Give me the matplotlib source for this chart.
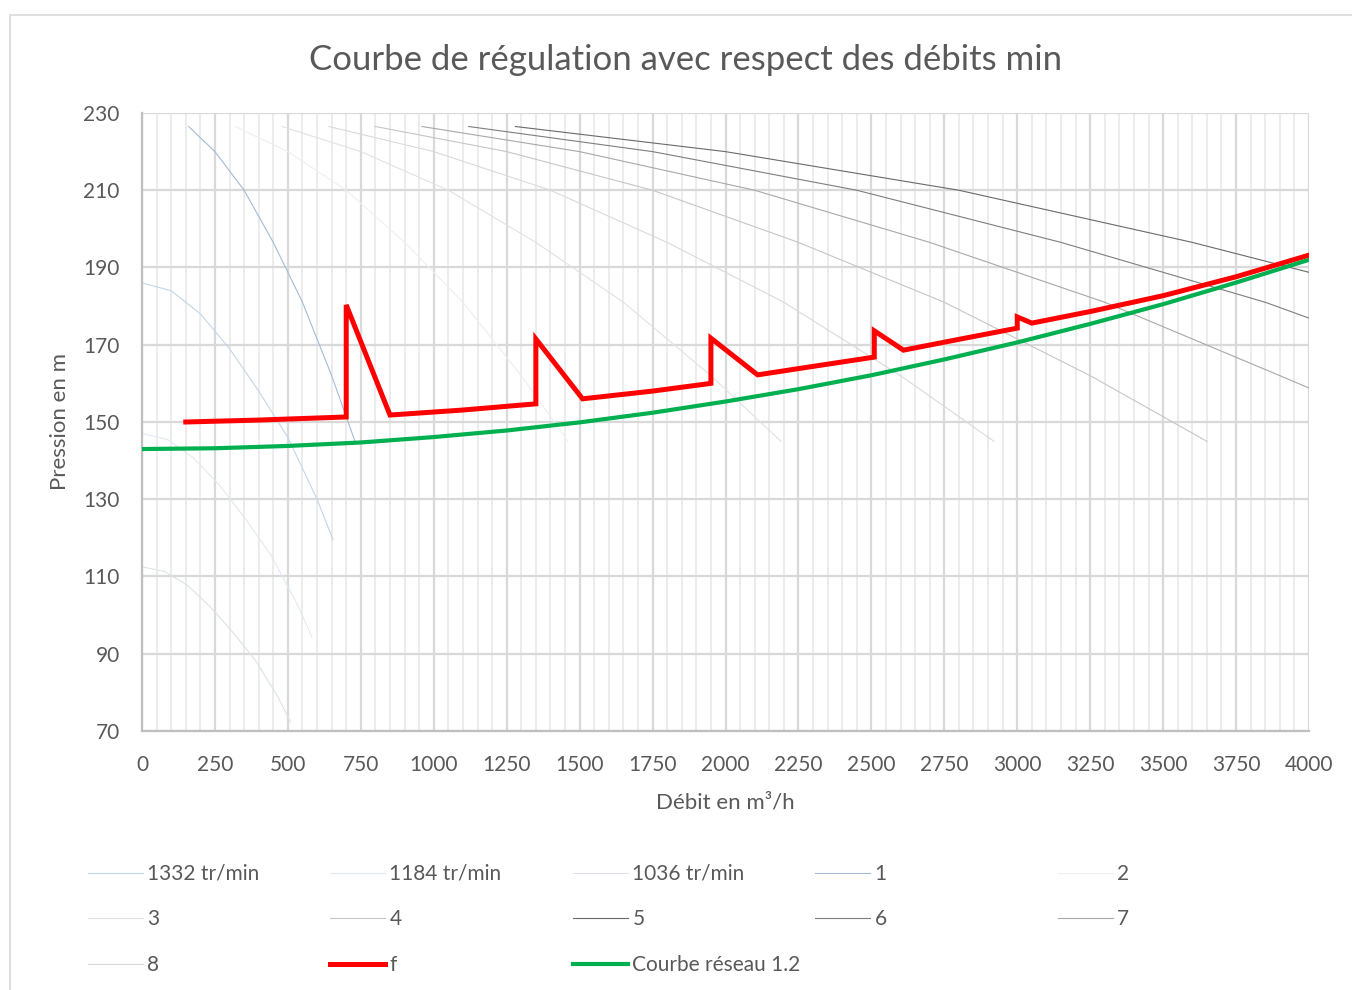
import numpy as np
import matplotlib
matplotlib.use('Agg')
import matplotlib.pyplot as plt
from matplotlib.ticker import MultipleLocator
from matplotlib.patches import Rectangle

plt.rcParams['font.family'] = ['Lato', 'DejaVu Sans']

# single pump curves at three speeds
q_1332 = [0, 100, 200, 300, 400, 500, 600, 655]
h_1332 = [186, 184, 178, 169, 158, 146, 130, 119.5]
q_1184 = [0, 89, 178, 267, 356, 444, 533, 582]
h_1184 = [147, 145.4, 140.6, 133.5, 124.8, 115.3, 102.7, 94.4]
q_1036 = [0, 78, 156, 233, 311, 389, 467, 509]
h_1036 = [112.5, 111.3, 107.7, 102.2, 95.6, 88.3, 78.7, 72.3]

# curves 1..8
q_c1 = [160, 250, 350, 450, 550, 650, 730]
h_c1 = [226.5, 220, 210, 196.5, 181, 162, 145]
q_c2 = [320, 500, 700, 900, 1100, 1300, 1460]
h_c2 = [226.5, 220, 210, 196.5, 181, 162, 145]
q_c3 = [480, 750, 1050, 1350, 1650, 1950, 2190]
h_c3 = [226.5, 220, 210, 196.5, 181, 162, 145]
q_c8 = [640, 1000, 1400, 1800, 2200, 2600, 2920]
h_c8 = [226.5, 220, 210, 196.5, 181, 162, 145]
q_c4 = [800, 1250, 1750, 2250, 2750, 3250, 3650]
h_c4 = [226.5, 220, 210, 196.5, 181, 162, 145]
q_c7 = [960, 1500, 2100, 2700, 3300, 3900, 4000]
h_c7 = [226.5, 220, 210, 196.5, 181, 162, 158.8]
q_c6 = [1120, 1750, 2450, 3150, 3850, 4000]
h_c6 = [226.5, 220, 210, 196.5, 181, 176.9]
q_c5 = [1280, 2000, 2800, 3600, 4000]
h_c5 = [226.5, 220, 210, 196.5, 188.75]

# regulation curve f
q_f = [150, 400, 700, 700, 850, 1100, 1350, 1350, 1510, 1750, 1950, 1950, 2110,
       2300, 2510, 2510, 2610, 2800, 3000, 3000, 3050, 3250, 3500, 3750, 4000]
h_f = [150, 150.5, 151.3, 180.3, 151.8, 153.1, 154.7, 171.5, 156, 158, 160, 171.7, 162.2,
       164.4, 166.8, 173.6, 168.6, 171.4, 174.3, 177.2, 175.6, 178.6, 182.7, 187.6, 193.2]

# network curve
q_res = [0, 250, 500, 750, 1000, 1250, 1500, 1750, 2000, 2250, 2500, 2750, 3000,
         3250, 3500, 3750, 4000]
h_res = [143, 143.2, 143.8, 144.7, 146.1, 147.8, 149.9, 152.4, 155.3, 158.5, 162.1,
         166.2, 170.6, 175.4, 180.5, 186.1, 192]

y_ticks = [70, 90, 110, 130, 150, 170, 190, 210, 230]

series = [
    ('1332 tr/min', q_1332, h_1332, '#c3d6ea', 0.8),
    ('1184 tr/min', q_1184, h_1184, '#e2e9f2', 0.8),
    ('1036 tr/min', q_1036, h_1036, '#dde2e9', 0.8),
    ('1', q_c1, h_c1, '#a2bbd5', 0.8),
    ('2', q_c2, h_c2, '#efefef', 0.8),
    ('3', q_c3, h_c3, '#e2e2e2', 0.8),
    ('4', q_c4, h_c4, '#c6c6c6', 0.8),
    ('5', q_c5, h_c5, '#6a6a6a', 0.8),
    ('6', q_c6, h_c6, '#7e7e7e', 0.8),
    ('7', q_c7, h_c7, '#a8a8a8', 0.8),
    ('8', q_c8, h_c8, '#dadada', 0.8),
    ('f', q_f, h_f, '#ff0000', 3.6),
    ('Courbe réseau 1.2', q_res, h_res, '#00b050', 3.0),
]

txt = '#595959'

fig = plt.figure(figsize=(13.52, 9.9), dpi=100)
fig.patches.append(Rectangle((10/1352, -0.01), 1.0, 1 - 15/990 + 0.01,
                             transform=fig.transFigure, fill=False,
                             edgecolor='#d9d9d9', lw=1.2))
ax = fig.add_axes([0.10503, 0.26162, 0.86317, 0.62424])

handles = {}
for name, q, h, col, lw in series:
    z = 3 if lw > 2 else 2
    ln, = ax.plot(q, h, color=col, lw=lw, label=name, zorder=z,
                  solid_joinstyle='miter' if lw > 2 else 'round')
    handles[name] = ln

ax.set_xlim(0, 4000)
ax.set_ylim(70, 230)
ax.xaxis.set_major_locator(MultipleLocator(250))
ax.xaxis.set_minor_locator(MultipleLocator(50))
ax.set_yticks(y_ticks)
ax.set_axisbelow(True)
ax.grid(which='major', color='#d9d9d9', lw=1.6)
ax.grid(which='minor', axis='x', color='#ececec', lw=1.4)
for s in ['top', 'right']:
    ax.spines[s].set_visible(False)
for s in ['left', 'bottom']:
    ax.spines[s].set_color('#bfbfbf')
    ax.spines[s].set_linewidth(1.6)
ax.tick_params(which='both', length=0, labelsize=15, labelcolor=txt)
ax.tick_params(axis='y', pad=16)
ax.tick_params(axis='x', pad=17.5)

ax.set_xlabel('Débit en m³/h', fontsize=16, color=txt)
ax.set_ylabel('Pression en m', fontsize=16, color=txt)
ax.xaxis.set_label_coords(0.5, -0.115)
ax.xaxis.label.set_va('center')
ax.yaxis.set_label_coords(-0.070, 0.5)
ax.yaxis.label.set_va('center')

fig.text(0.507, 0.939, 'Courbe de régulation avec respect des débits min',
         ha='center', va='center', fontsize=25, color=txt)

# legend: five equal columns, filled row by row
columns = [
    ['1332 tr/min', '3', '8'],
    ['1184 tr/min', '4', 'f'],
    ['1036 tr/min', '5', 'Courbe réseau 1.2'],
    ['1', '6'],
    ['2', '7'],
]
col_x = [88, 330, 573, 815, 1058]
for cx, names in zip(col_x, columns):
    leg = fig.legend([handles[n] for n in names], names, loc='upper left',
                     bbox_to_anchor=(cx/1352, 1 - 864/990), frameon=False,
                     fontsize=15, handlelength=2.65, handletextpad=0.2,
                     borderpad=0, borderaxespad=0, labelspacing=1.22)
    for t in leg.get_texts():
        t.set_color(txt)

fig.savefig('out.png', dpi=100)
